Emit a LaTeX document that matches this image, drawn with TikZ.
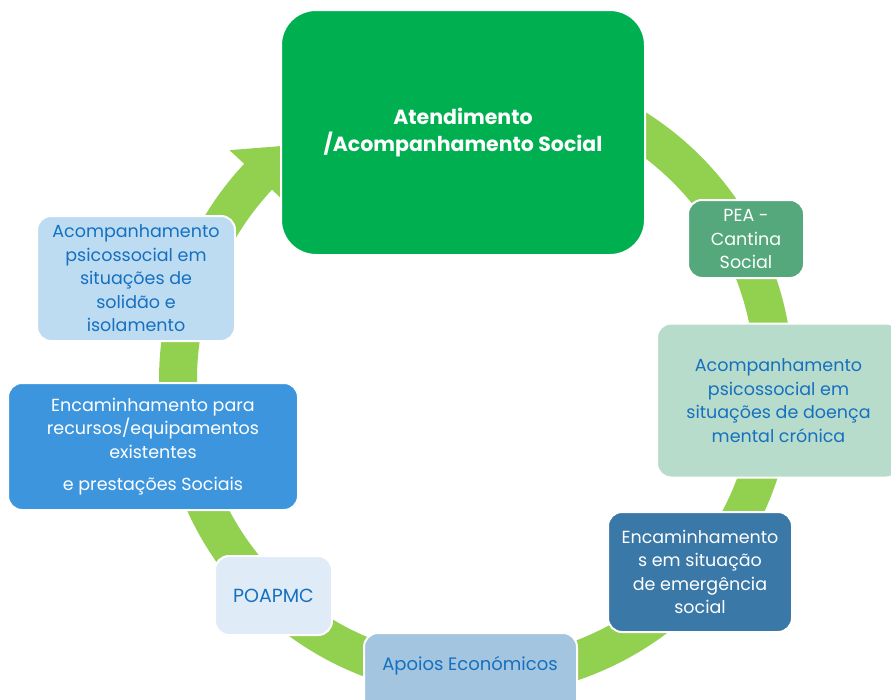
\documentclass[tikz,border=0pt]{standalone}
\usepackage{fontspec}
\setmainfont{Poppins}
\definecolor{ringgreen}{HTML}{92D050}
\definecolor{cBig}{HTML}{00B050}
\definecolor{cPea}{HTML}{55A87C}
\definecolor{cDoenca}{HTML}{B8DCCB}
\definecolor{cEmerg}{HTML}{3A78A8}
\definecolor{cApoio}{HTML}{A3C5E0}
\definecolor{cPoa}{HTML}{DFEBF6}
\definecolor{cRec}{HTML}{3D96DD}
\definecolor{cSol}{HTML}{BDDCF2}
\definecolor{txtblue}{HTML}{1570BF}
\begin{document}
\begin{tikzpicture}[x=1pt,y=-1pt,
  box/.style={draw=white, line width=2pt, rounded corners=14pt, align=center, inner sep=0pt},
  lbl/.style={font=\fontsize{17.5}{23.5}\selectfont},
  lblw/.style={lbl, text=white},
  lblb/.style={lbl, text=txtblue}]
\clip (0,0) rectangle (891,699);
\fill[white] (0,0) rectangle (891,699);
\coordinate (c) at (476,380);
% circular arrow ring
\fill[ringgreen] ([shift={(-60:317)}]c) arc[start angle=-60,end angle=223,radius=317]
  -- ([shift={(223:337)}]c) -- ([shift={(232:298)}]c) -- ([shift={(223:259)}]c)
  -- ([shift={(223:279)}]c) arc[start angle=223,end angle=-60,radius=279] -- cycle;
% boxes
\node[box, fill=cBig, rounded corners=35pt, minimum width=364pt, minimum height=245pt,
  text=white, font=\bfseries\fontsize{20.5}{27}\selectfont] (main) at (463,132.5)
  {Atendimento\\/Acompanhamento Social};
\node[box, lblw, fill=cPea, minimum width=116pt, minimum height=78pt] (pea) at (746,239)
  {PEA -\\Cantina\\Social};
\node[box, lblb, fill=cDoenca, minimum width=243pt, minimum height=154pt] (doenca) at (778.5,400.5)
  {Acompanhamento\\psicossocial em\\situações de doença\\mental crónica};
\node[box, lblw, fill=cEmerg, minimum width=184pt, minimum height=120pt] (emerg) at (700,572)
  {Encaminhamento\\s em situação\\de emergência\\social};
\node[box, fill=cApoio, minimum width=213pt, minimum height=94pt] (apoiosbox) at (470.5,680) {};
\node[lblb, font=\fontsize{18}{23.5}\selectfont] (apoios) at (470,666) {Apoios Económicos};
\node[box, lblb, fill=cPoa, minimum width=117pt, minimum height=79pt, font=\fontsize{19}{23.5}\selectfont] (poa) at (273.5,595.5)
  {POAPMC};
\node[box, lblw, fill=cRec, minimum width=290pt, minimum height=127pt] (rec) at (153,446.5)
  {Encaminhamento para\\recursos/equipamentos\\existentes\\[9pt]e prestações Sociais};
\node[box, lblb, fill=cSol, minimum width=198pt, minimum height=125pt] (sol) at (136,278.5)
  {Acompanhamento\\psicossocial em\\situações de\\solidão e\\isolamento};
\end{tikzpicture}
\end{document}
